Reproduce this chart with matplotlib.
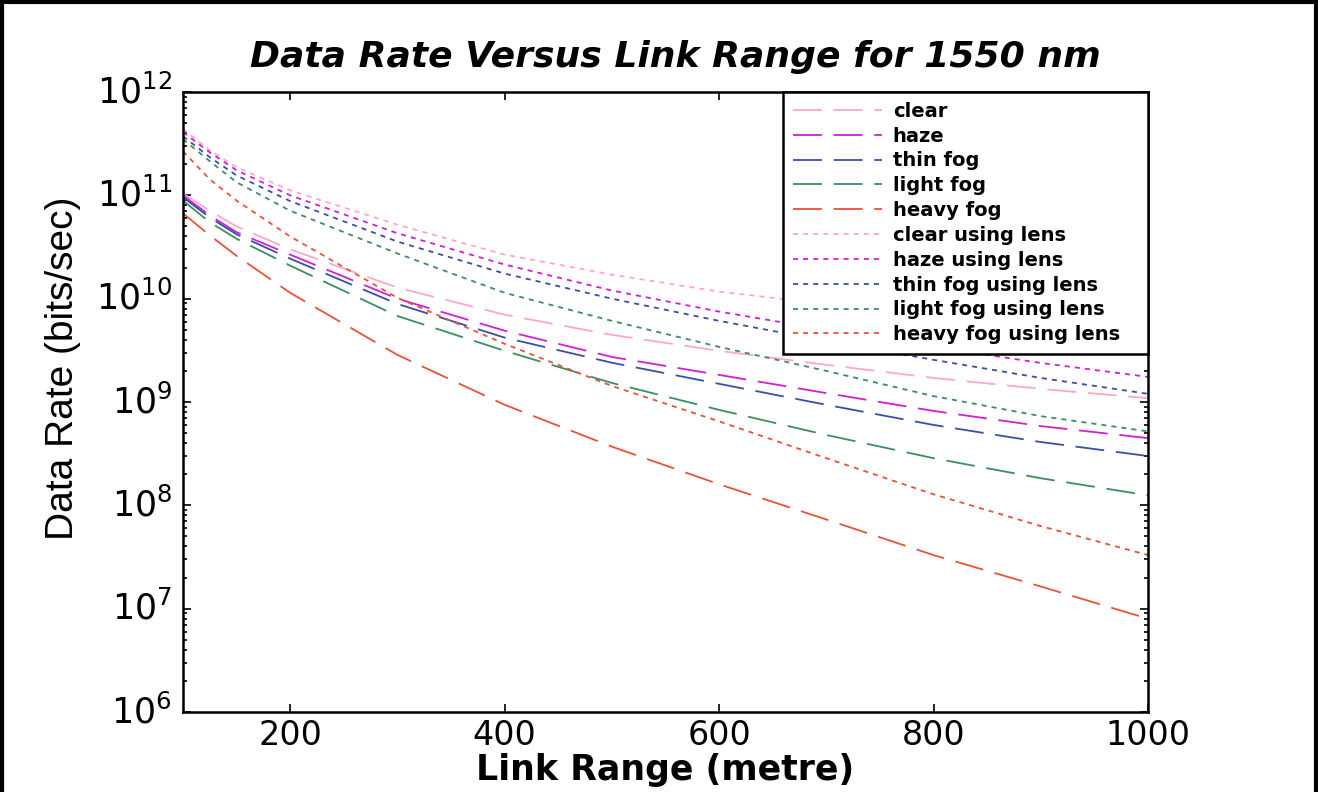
import matplotlib
matplotlib.use("Agg")
import matplotlib.pyplot as plt
from matplotlib.lines import Line2D
from matplotlib.ticker import FixedLocator, NullFormatter
from matplotlib.transforms import ScaledTranslation

plt.rcParams['font.family'] = ['DejaVu Sans']
plt.rcParams['mathtext.default'] = 'regular'

# link range (metre)
link_range = [100, 125, 150, 200, 300, 400, 500, 600, 700, 800, 900, 1000]

# data rate (bits/sec) without receiving lens
clear = [1.04e11, 7.1e10, 5.0e10, 3.0e10, 1.28e10, 7.0e9, 4.47e9, 3.13e9, 2.29e9, 1.71e9, 1.34e9, 1.09e9]
haze = [1.0e11, 6.4e10, 4.4e10, 2.67e10, 1.0e10, 4.9e9, 2.73e9, 1.83e9, 1.22e9, 8.2e8, 5.85e8, 4.47e8]
thin_fog = [9.6e10, 6.1e10, 4.2e10, 2.44e10, 8.9e9, 4.2e9, 2.4e9, 1.5e9, 9.4e8, 6.0e8, 4.1e8, 3.0e8]
light_fog = [8.9e10, 5.5e10, 3.8e10, 2.09e10, 6.8e9, 3.13e9, 1.53e9, 8.4e8, 4.8e8, 2.86e8, 1.83e8, 1.25e8]
heavy_fog = [6.7e10, 4.1e10, 2.6e10, 1.14e10, 2.86e9, 9.4e8, 3.7e8, 1.6e8, 7.3e7, 3.3e7, 1.64e7, 8.0e6]

# data rate (bits/sec) using receiving lens
clear_lens = [4.4e11, 2.73e11, 1.87e11, 1.12e11, 5.2e10, 2.67e10, 1.71e10, 1.17e10, 8.9e9, 6.7e9, 5.1e9, 3.9e9]
haze_lens = [4.1e11, 2.61e11, 1.75e11, 1.0e11, 4.3e10, 2.14e10, 1.2e10, 7.5e9, 5.0e9, 3.42e9, 2.39e9, 1.75e9]
thin_fog_lens = [3.74e11, 2.34e11, 1.56e11, 8.8e10, 3.57e10, 1.75e10, 1.0e10, 6.1e9, 3.9e9, 2.56e9, 1.71e9, 1.2e9]
light_fog_lens = [3.5e11, 2.14e11, 1.34e11, 7.1e10, 2.74e10, 1.14e10, 6.1e9, 3.42e9, 2.0e9, 1.14e9, 7.3e8, 5.2e8]
heavy_fog_lens = [2.67e11, 1.43e11, 8.9e10, 4.0e10, 1.02e10, 3.66e9, 1.43e9, 6.5e8, 2.86e8, 1.28e8, 6.3e7, 3.3e7]

colors = ['#ffa6cc', '#d21fd2', '#3a4ea8', '#3d8e5e', '#e8523a']
names = ['clear', 'haze', 'thin fog', 'light fog', 'heavy fog']

decades = [1e6, 1e7, 1e8, 1e9, 1e10, 1e11, 1e12]
minor_ticks = [m * d for d in decades[:-1] for m in range(2, 10)]

fig = plt.figure(figsize=(13.18, 7.92), dpi=100)
ax = fig.add_axes([0.1388, 0.101, 0.7322, 0.7828])

lw = 1.3
for name, c, ys in zip(names, colors, [clear, haze, thin_fog, light_fog, heavy_fog]):
    ax.plot(link_range, ys, color=c, lw=lw, dashes=(16, 6.5), label=name)
for name, c, ys in zip(names, colors, [clear_lens, haze_lens, thin_fog_lens,
                                       light_fog_lens, heavy_fog_lens]):
    ax.plot(link_range, ys, color=c, lw=lw, dashes=(2.8, 2.8), label=name + ' using lens')

ax.set_yscale('log')
ax.set_xlim(100, 1000)
ax.set_ylim(1e6, 1e12)
ax.set_xticks([200, 400, 600, 800, 1000])
ax.yaxis.set_major_locator(FixedLocator(decades))
ax.yaxis.set_minor_locator(FixedLocator(minor_ticks))
ax.yaxis.set_minor_formatter(NullFormatter())

ax.tick_params(which='both', direction='in', top=True, right=True, width=1.2)
ax.tick_params(which='major', length=6)
ax.tick_params(which='minor', length=3)
ax.tick_params(axis='x', labelsize=24, pad=5)
ax.tick_params(axis='y', labelsize=25, pad=8)
for sp in ax.spines.values():
    sp.set_linewidth(1.8)

# keep the mantissa of each decade label centred on its tick
shift = ScaledTranslation(0, -0.11, fig.dpi_scale_trans)
for lab in ax.get_yticklabels():
    lab.set_verticalalignment('baseline')
    lab.set_transform(lab.get_transform() + shift)

ax.set_xlabel('Link Range (metre)', fontsize=25, fontweight='bold', labelpad=1)
ax.set_ylabel('Data Rate (bits/sec)', fontsize=28, family='Liberation Sans')
ax.yaxis.set_label_coords(-0.106, 0.555)
ax.set_title('Data Rate Versus Link Range for 1550 nm', fontsize=26,
             fontstyle='italic', fontweight='bold', x=0.51, pad=18)

# legend box spans the right part of the axes top
leg = ax.legend(loc='upper right', bbox_to_anchor=(0.6218, 0, 0.3782, 1),
                mode='expand', borderaxespad=0,
                fancybox=False, framealpha=1, edgecolor='black',
                prop={'weight': 'bold', 'size': 14}, handlelength=4.6,
                handletextpad=0.55, labelspacing=0.3, borderpad=0.5)
leg.get_frame().set_linewidth(1.8)

# outer frame on the top, left and right of the figure
for xs, ys in [([0.0015, 0.0015], [0, 0.998]), ([0.0015, 0.9985], [0.998, 0.998]),
               ([0.9985, 0.9985], [0, 0.998])]:
    fig.add_artist(Line2D(xs, ys, transform=fig.transFigure, color='black', lw=3))

fig.savefig('out.png', dpi=100)
